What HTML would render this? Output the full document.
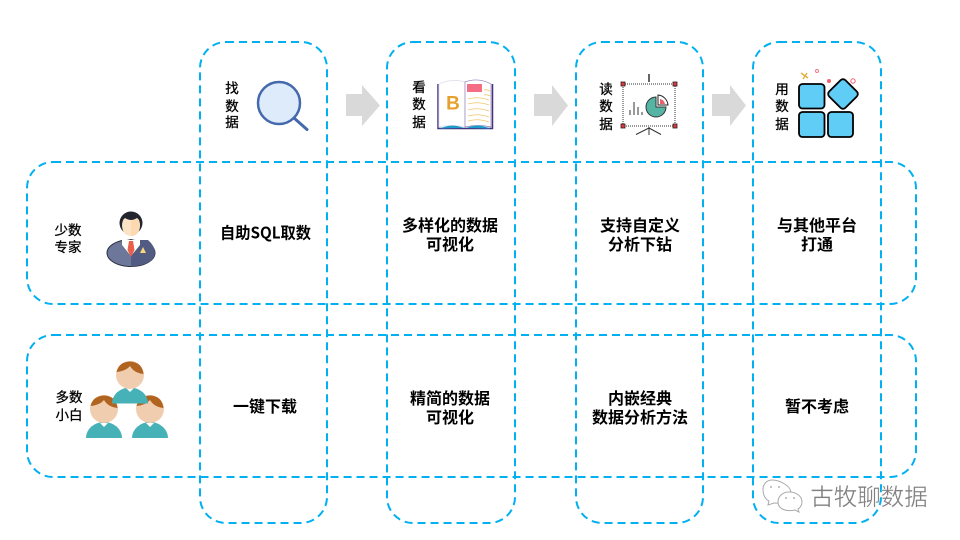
<!DOCTYPE html>
<html><head><meta charset="utf-8"><style>
html,body{margin:0;padding:0;background:#fff;width:960px;height:540px;overflow:hidden}
svg{display:block}
text{font-family:"Liberation Sans","Noto Sans CJK SC",sans-serif;text-anchor:middle;fill:#000}
.b text{font-family:"Noto Sans CJK SC",sans-serif;font-size:16px;font-weight:700}
.s text{font-family:"Noto Sans CJK SC",sans-serif;font-size:13.500px;stroke:#000;stroke-width:.3}
.d rect{fill:none;stroke:#00b0f0;stroke-width:2;stroke-dasharray:8 5}
</style></head><body>
<svg width="960" height="540" viewBox="0 0 960 540" xmlns="http://www.w3.org/2000/svg">
<g class="d">
<rect x="200" y="42" width="127" height="481" rx="26"/>
<rect x="387" y="42" width="128" height="481" rx="26"/>
<rect x="576" y="42" width="127" height="481" rx="26"/>
<rect x="753" y="42" width="128" height="481" rx="26"/>
<rect x="27" y="162" width="889" height="142" rx="26"/>
<rect x="27" y="335" width="889" height="142" rx="26"/>
</g>
<g fill="#d9d9d9">
<path d="M346 94H362V85L380 105.500L362 126V116H346Z"/>
<path d="M534 94H552V85L568 105.500L552 126V116H534Z"/>
<path d="M712 94H730V85L746 105.500L730 126V116H712Z"/>
</g>
<g class="s">
<text x="232" y="93">找</text><text x="232" y="111">数</text><text x="232" y="127">据</text>
<text x="419" y="92">看</text><text x="419" y="109">数</text><text x="419" y="127">据</text>
<text x="606" y="94">读</text><text x="606" y="111">数</text><text x="606" y="129">据</text>
<text x="782" y="94">用</text><text x="782" y="111">数</text><text x="782" y="129">据</text>
<text x="68" y="235">少数</text><text x="68" y="252">专家</text>
<text x="69" y="402">多数</text><text x="69" y="420">小白</text>
</g>
<g class="b">
<text x="265.500" y="238.500" textLength="91" lengthAdjust="spacingAndGlyphs">自助SQL取数</text>
<text x="450" y="231">多样化的数据</text><text x="450" y="250">可视化</text>
<text x="640" y="231">支持自定义</text><text x="640" y="250">分析下钻</text>
<text x="817" y="231">与其他平台</text><text x="817" y="250">打通</text>
<text x="265" y="412">一键下载</text>
<text x="450" y="404">精简的数据</text><text x="450" y="423">可视化</text>
<text x="640" y="404">内嵌经典</text><text x="640" y="423">数据分析方法</text>
<text x="817" y="412">暂不考虑</text>
</g>
<!-- magnifier -->
<circle cx="279" cy="103" r="21" fill="#deebfb" stroke="#4569ad" stroke-width="2.500"/>
<path d="M294 118L307 129.500" stroke="#4569ad" stroke-width="3" stroke-linecap="round"/>
<!-- book -->
<path d="M438 84V128.500H492.500V84" fill="none" stroke="#46327f" stroke-width="1.500"/>
<path d="M439 84Q452 78 465 82V127Q452 124 439 127Z" fill="#fff" stroke="#e6e3f0"/>
<path d="M465 82Q478 77 491 84V127Q478 124 465 127Z" fill="#fff" stroke="#8e7cb8" stroke-width=".7"/>
<path d="M440 128.500Q452 123 464 128Z" fill="#1c9ac9"/>
<path d="M466 128Q478 123 490 128.500Z" fill="#1c9ac9"/>
<rect x="467" y="84" width="15" height="8" fill="#f56d85"/>
<text x="453" y="109.500" style="font-size:19px;font-weight:700;fill:#e5a02f">B</text>
<g fill="none" stroke="#f0c66d" stroke-width=".8">
<path d="M484 90Q487 89 490 91"/><path d="M484 95Q487 94 490 96"/>
<path d="M468 99Q478 96 489 100"/><path d="M468 104Q478 101 489 105"/><path d="M468 110Q478 107 489 111"/><path d="M468 116Q478 113 489 117"/><path d="M468 121Q478 118 489 122"/>
</g>
<!-- presentation -->
<path d="M649 74V82" stroke="#666" stroke-width="2"/>
<rect x="623" y="84" width="52" height="42" fill="none" stroke="#333" stroke-width="1" stroke-dasharray="1 1"/>
<g fill="#e0383e" stroke="#222" stroke-width=".8">
<rect x="621" y="82" width="4" height="4"/><rect x="673" y="82" width="4" height="4"/>
<rect x="621" y="124" width="4" height="4"/><rect x="673" y="124" width="4" height="4"/>
</g>
<path d="M649 127V135M649 128L636 134.500M649 128L661 134.500" stroke="#333" fill="none"/>
<path d="M630 115V110M634 115V102M638 115V107M642 115V112" stroke="#333" stroke-width="1"/>
<path d="M656 97A10 10 0 1 0 666 107H656Z" fill="#54b5a5" stroke="#333" stroke-width="1"/>
<path d="M658 95A11 11 0 0 1 668 105H658Z" fill="#fff" stroke="#222" stroke-width="1"/>
<path d="M660 99A6 6 0 0 1 665 104H660Z" fill="#e8606a"/>
<!-- apps -->
<g fill="#5fcdf5" stroke="#000" stroke-width="1.800">
<rect x="799" y="84" width="25.500" height="24.500" rx="3.500"/>
<rect x="799" y="112" width="25.500" height="25" rx="3.500"/>
<rect x="828" y="112" width="25" height="25" rx="3.500"/>
<rect x="831.500" y="82.500" width="23" height="23" rx="3.500" transform="rotate(45 843 94)"/>
</g>
<path d="M801 73L808 78M807 73L803 79" stroke="#e0b040" stroke-width="1.400"/>
<circle cx="817" cy="71" r="1.500" fill="none" stroke="#ee7a86"/>
<circle cx="829" cy="81" r="2" fill="#ee5f70"/>
<circle cx="853" cy="81" r="2.200" fill="none" stroke="#ee5f70"/>
<!-- expert -->
<ellipse cx="131" cy="253" rx="24" ry="13.500" fill="#6d7799" stroke="#2c3040" stroke-width="1"/>
<path d="M131 240H148Q155 246 155 253Q154 265 131 266.500Z" fill="#525b82"/>
<path d="M122 238L131 240L140 238L140 245L131 256L122 245Z" fill="#fff"/>
<path d="M129 241H133L134.500 250L131 257L127.500 250Z" fill="#e8604c"/>
<path d="M143 247L146 253H140Z" fill="#f6d77a"/>
<circle cx="131" cy="223" r="11.500" fill="#23262f"/>
<path d="M122 226Q122 220 125 218Q131 222 137 218Q140 220 140 226Q139 236 131 236Q123 236 122 226Z" fill="#fbe3c6"/>
<path d="M131 220Q135 221 137 218Q140 220 140 226Q139 236 131 236Z" fill="#fcd9b0"/>
<!-- group -->
<g>
<path d="M86 438A18 16 0 0 1 122 438Z" fill="#46b2b8"/>
<path d="M100 423L104 427L108 423Z" fill="#fff"/>
<circle cx="104" cy="409" r="14" fill="#f1cdb0"/>
<path d="M90.500 406Q93 396 104 395.500Q116 396 117.500 408Q108 407 104 400Q100 405 90.500 406Z" fill="#b0641f"/>
</g>
<g>
<path d="M132 438A18 16 0 0 1 168 438Z" fill="#46b2b8"/>
<path d="M146 423L150 427L154 423Z" fill="#fff"/>
<circle cx="150" cy="409" r="14" fill="#f1cdb0"/>
<path d="M136.500 406Q139 396 150 395.500Q162 396 163.500 408Q154 407 150 400Q146 405 136.500 406Z" fill="#b0641f"/>
</g>
<g>
<path d="M112 403.500A18 16 0 0 1 148 403.500Z" fill="#46b2b8"/>
<path d="M126 388L130 392L134 388Z" fill="#fff"/>
<circle cx="130" cy="375" r="14" fill="#f1cdb0"/>
<path d="M116.500 372Q119 362 130 361.500Q142 362 143.500 374Q134 373 130 366Q126 371 116.500 372Z" fill="#b0641f"/>
</g>
<!-- watermark -->
<g fill="#fff" stroke="#aaa" stroke-width="1">
<path d="M772 480C780 480 791 486 791 493C791 500 782 504 774 503L768 505L769 501C763 498 763 491 763 489C763 484 767 480 772 480Z"/>
<path d="M789 492C796 492 802 496 802 502C802 505 800 508 798 509L799 512L795 510C786 512 778 509 778 502C778 496 783 492 789 492Z"/>
</g>
<g fill="#999"><circle cx="771" cy="487" r=".9"/><circle cx="779" cy="487" r=".9"/><circle cx="786" cy="498" r=".9"/><circle cx="794" cy="498" r=".9"/></g>
<text x="869" y="505" style="font-family:'Noto Sans CJK SC',sans-serif;font-size:23.500px;fill:#808080;stroke:#fff;stroke-width:.3">古牧聊数据</text>
</svg>
</body></html>
